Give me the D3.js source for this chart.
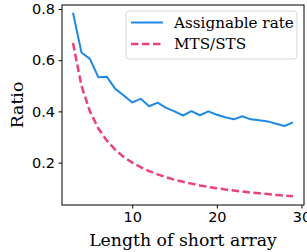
<!DOCTYPE html>
<html>
<head>
<meta charset="utf-8">
<script src="https://cdn.jsdelivr.net/npm/d3@7"></script>
<style>
  body { margin: 0; background: #fff; }
  svg { display: block; }
</style>
</head>
<body>
<div id="chart"></div>
<script>
// values
var lengths = [3, 4, 5, 6, 7, 8, 9, 10, 11, 12, 13, 14, 15, 16, 17, 18, 19, 20, 21, 22, 23, 24, 25, 26, 27, 28, 29];
var assignable = [0.785, 0.630, 0.605, 0.533, 0.535, 0.488, 0.462, 0.435, 0.449, 0.420, 0.434, 0.414, 0.400, 0.384, 0.401, 0.385, 0.400, 0.387, 0.377, 0.369, 0.381, 0.369, 0.365, 0.361, 0.352, 0.343, 0.357];
var mtsSts = [0.667, 0.500, 0.400, 0.333, 0.286, 0.250, 0.222, 0.200, 0.182, 0.167, 0.154, 0.143, 0.133, 0.125, 0.118, 0.111, 0.105, 0.100, 0.095, 0.091, 0.087, 0.083, 0.080, 0.077, 0.074, 0.071, 0.069];
var xTicks = [10, 20, 30];
var yTicks = [0.2, 0.4, 0.6, 0.8];
var seriesNames = ["Assignable rate", "MTS/STS"];

var W = 307, H = 252;
var m = {left: 62, top: 5, right: 3, bottom: 47};

var svg = d3.select("#chart").append("svg")
    .attr("width", W).attr("height", H);

var x = d3.scaleLinear().domain([1.7, 30.3]).range([m.left, W - m.right]);
var y = d3.scaleLinear().domain([0.0345, 0.8155]).range([H - m.bottom, m.top]);

var g = svg.append("g");

// lines
var line = function(vals) {
  return d3.line().x(function(d, i) { return x(lengths[i]); })
                  .y(function(d) { return y(d); })(vals);
};

g.append("path").attr("d", line(assignable))
  .attr("fill", "none").attr("stroke", "#1e88e5").attr("stroke-width", 2)
  .attr("stroke-linejoin", "round");

g.append("path").attr("d", line(mtsSts))
  .attr("fill", "none").attr("stroke", "#ec407a").attr("stroke-width", 2.5)
  .attr("stroke-dasharray", "7.5,3.5");

// frame
svg.append("rect")
  .attr("x", m.left).attr("y", m.top)
  .attr("width", W - m.right - m.left).attr("height", H - m.bottom - m.top)
  .attr("fill", "none").attr("stroke", "#000").attr("stroke-width", 1);

// axes
var xAxis = svg.append("g").attr("transform", "translate(0," + (H - m.bottom) + ")")
  .call(d3.axisBottom(x).tickValues(xTicks).tickSize(3.5).tickPadding(3.5).tickFormat(d3.format("d")));
var yAxis = svg.append("g").attr("transform", "translate(" + m.left + ",0)")
  .call(d3.axisLeft(y).tickValues(yTicks).tickSize(3.5).tickPadding(3.5).tickFormat(d3.format(".1f")));

[xAxis, yAxis].forEach(function(a) {
  a.select(".domain").remove();
  a.selectAll("text").attr("font-family", "DejaVu Sans").attr("font-size", 14.5).attr("fill", "#000");
  a.selectAll("line").attr("stroke", "#000");
});

// axis labels
svg.append("text").attr("x", (m.left + W - m.right) / 2).attr("y", 246)
  .attr("text-anchor", "middle").attr("font-family", "DejaVu Serif").attr("font-size", 17.3)
  .text("Length of short array");

svg.append("text").attr("transform", "translate(23," + ((m.top + H - m.bottom) / 2) + ") rotate(-90)")
  .attr("text-anchor", "middle").attr("font-family", "DejaVu Serif").attr("font-size", 17.3)
  .text("Ratio");

// legend
var lg = svg.append("g");
lg.append("rect").attr("x", 126).attr("y", 11).attr("width", 171).attr("height", 48)
  .attr("rx", 3).attr("fill", "#fff").attr("fill-opacity", 0.8)
  .attr("stroke", "#d6d6d6").attr("stroke-width", 1);

var colors = ["#1e88e5", "#ec407a"];
var dashes = [null, "7.5,3.5"];
var widths = [2, 2.5];
seriesNames.forEach(function(name, i) {
  var yy = 22.5 + i * 21.5;
  lg.append("line").attr("x1", 131).attr("x2", 163).attr("y1", yy).attr("y2", yy)
    .attr("stroke", colors[i]).attr("stroke-width", widths[i])
    .attr("stroke-dasharray", dashes[i]);
  lg.append("text").attr("x", 174).attr("y", yy + 5.2)
    .attr("font-family", "'DejaVu Serif', serif").attr("font-size", 15.2)
    .text(name);
});
</script>
</body>
</html>
